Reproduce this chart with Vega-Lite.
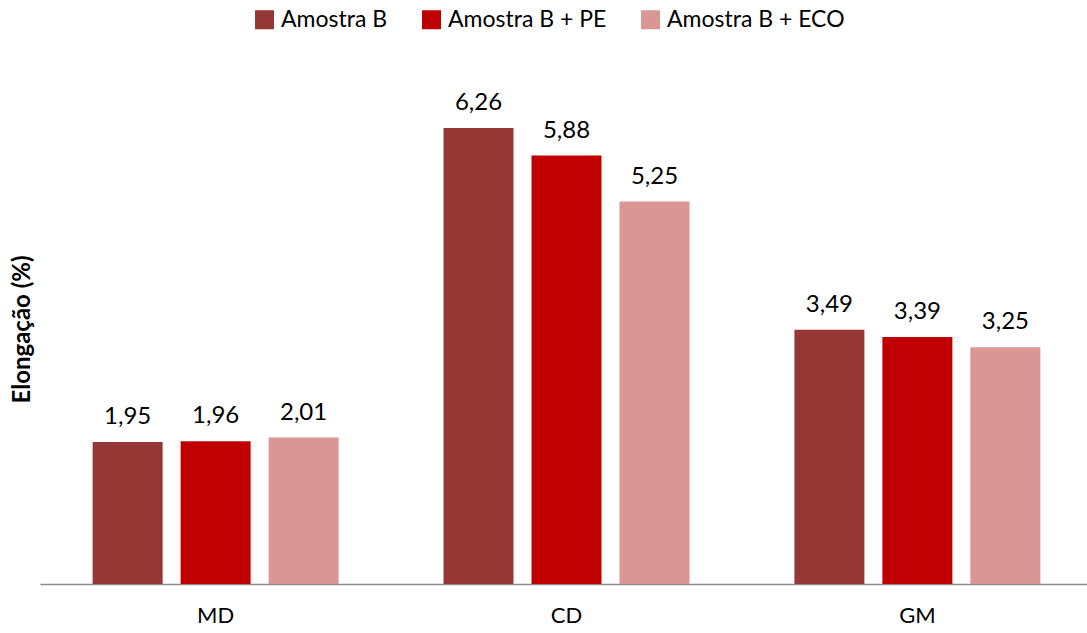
{
  "$schema": "https://vega.github.io/schema/vega-lite/v6.json",
  "width": 1053,
  "height": 510,
  "autosize": "none",
  "padding": {"left": 40, "top": 74, "right": 0, "bottom": 49},
  "background": "white",
  "config": {
    "font": "Lato",
    "view": {"stroke": null},
    "locale": {"number": {"decimal": ",", "thousands": ".", "grouping": [3], "currency": ["", ""]}}
  },
  "data": {
    "values": [
      {"grupo": "MD", "amostra": "Amostra B", "valor": 1.95},
      {"grupo": "MD", "amostra": "Amostra B + PE", "valor": 1.96},
      {"grupo": "MD", "amostra": "Amostra B + ECO", "valor": 2.01},
      {"grupo": "CD", "amostra": "Amostra B", "valor": 6.26},
      {"grupo": "CD", "amostra": "Amostra B + PE", "valor": 5.88},
      {"grupo": "CD", "amostra": "Amostra B + ECO", "valor": 5.25},
      {"grupo": "GM", "amostra": "Amostra B", "valor": 3.49},
      {"grupo": "GM", "amostra": "Amostra B + PE", "valor": 3.39},
      {"grupo": "GM", "amostra": "Amostra B + ECO", "valor": 3.25}
    ]
  },
  "encoding": {
    "x": {
      "field": "grupo",
      "type": "nominal",
      "sort": ["MD", "CD", "GM"],
      "scale": {"paddingInner": 0.299, "paddingOuter": 0.15},
      "axis": {
        "title": null,
        "labelAngle": 0,
        "labelFontSize": 22,
        "labelColor": "#000000",
        "labelPadding": 21,
        "ticks": false,
        "domainColor": "#8c8c8c",
        "domainWidth": 1.5
      }
    },
    "xOffset": {
      "field": "amostra",
      "type": "nominal",
      "sort": ["Amostra B", "Amostra B + PE", "Amostra B + ECO"],
      "scale": {"paddingInner": 0.2045, "paddingOuter": 0}
    },
    "y": {
      "field": "valor",
      "type": "quantitative",
      "scale": {"domain": [0, 7], "nice": false},
      "axis": {
        "title": "Elongação (%)",
        "titleFontSize": 24,
        "titleFontWeight": "bold",
        "titleColor": "#000000",
        "titlePadding": 6,
        "labels": false,
        "ticks": false,
        "domain": false,
        "grid": false
      }
    }
  },
  "layer": [
    {
      "mark": {"type": "bar"},
      "encoding": {
        "color": {
          "field": "amostra",
          "type": "nominal",
          "sort": ["Amostra B", "Amostra B + PE", "Amostra B + ECO"],
          "scale": {
            "domain": ["Amostra B", "Amostra B + PE", "Amostra B + ECO"],
            "range": ["#953735", "#C00000", "#D99694"]
          },
          "legend": {
            "title": null,
            "orient": "none",
            "direction": "horizontal",
            "legendX": 213,
            "legendY": -66,
            "symbolType": "square",
            "symbolSize": 361,
            "symbolStrokeWidth": 0,
            "labelFontSize": 23,
            "labelColor": "#000000",
            "labelOffset": 5,
            "labelLimit": 0,
            "columnPadding": 32
          }
        }
      }
    },
    {
      "mark": {"type": "text", "baseline": "alphabetic", "dy": -18, "fontSize": 24, "color": "#000000"},
      "encoding": {
        "text": {"field": "valor", "type": "quantitative", "format": ".2f"}
      }
    }
  ]
}
